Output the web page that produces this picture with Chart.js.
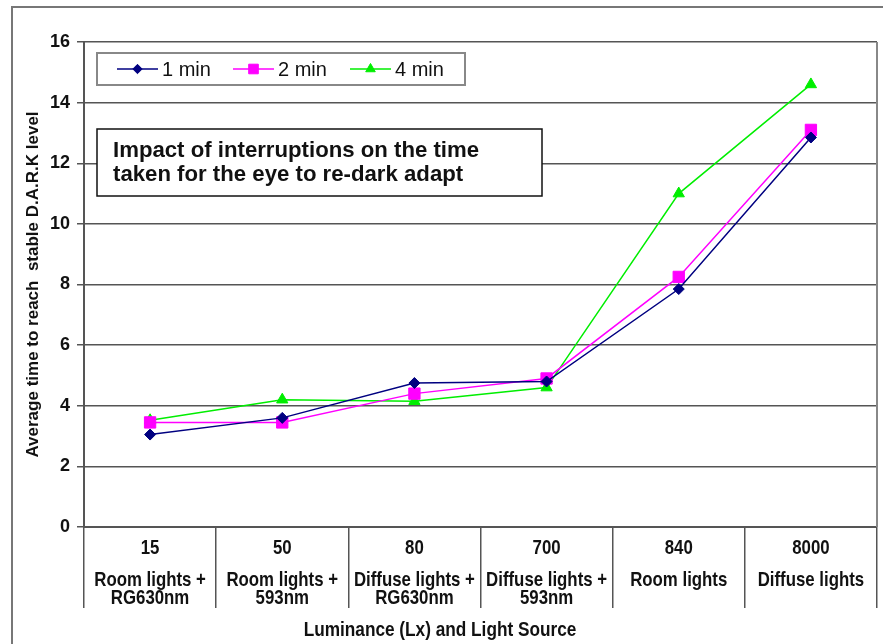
<!DOCTYPE html>
<html>
<head>
<meta charset="utf-8">
<script src="https://cdn.jsdelivr.net/npm/chart.js@4/dist/chart.umd.min.js"></script>
<style>
  html, body { margin: 0; padding: 0; background: #fff; }
  #wrap { width: 883px; height: 644px; position: relative; }
</style>
</head>
<body>
<div id="wrap"><canvas id="c" width="883" height="644"></canvas></div>
<script>
// Luminance (Lx) and light source for each test condition
const luminance = ["15", "50", "80", "700", "840", "8000"];
const lightSource = [
  ["Room lights +", "RG630nm"],
  ["Room lights +", "593nm"],
  ["Diffuse lights +", "RG630nm"],
  ["Diffuse lights +", "593nm"],
  ["Room lights"],
  ["Diffuse lights"]
];

// Average time (min) to reach a stable D.A.R.K level after each interruption length
const seriesNames = ["1 min", "2 min", "4 min"];
const oneMin = [3.05, 3.6, 4.75, 4.8, 7.85, 12.85];
const twoMin = [3.45, 3.45, 4.4, 4.9, 8.25, 13.1];
const fourMin = [3.52, 4.2, 4.15, 4.6, 11.0, 14.6];

// Y axis ticks
const yTicks = [0, 2, 4, 6, 8, 10, 12, 14, 16];

const chartTitle = ["Impact of interruptions on the time", "taken for the eye to re-dark adapt"];
const yTitle = "Average time to reach  stable D.A.R.K level";
const xTitle = "Luminance (Lx) and Light Source";

const SANS = '"Liberation Sans", Arial, sans-serif';
const GRID = '#555555';
const NARROW_X = 0.82; // horizontal squeeze for the condensed axis lettering

const labels = luminance.map((l, i) => [l].concat(lightSource[i]));

// Draw text horizontally condensed around (x, y)
function narrowText(ctx, text, x, y) {
  ctx.save();
  ctx.translate(x, y);
  ctx.scale(NARROW_X, 1);
  ctx.fillText(text, 0, 0);
  ctx.restore();
}

// Outer frame, plot edge, boxed title and the condensed x axis lettering
const framePlugin = {
  id: 'frame',
  beforeDraw(chart) {
    const ctx = chart.ctx;
    ctx.save();
    ctx.fillStyle = '#ffffff';
    ctx.fillRect(0, 0, chart.width, chart.height);
    ctx.strokeStyle = '#777777';
    ctx.lineWidth = 2;
    ctx.beginPath();
    ctx.moveTo(12, chart.height);
    ctx.lineTo(12, 7);
    ctx.lineTo(chart.width, 7);
    ctx.stroke();
    ctx.restore();
  },
  afterDraw(chart) {
    const ctx = chart.ctx;
    const a = chart.chartArea;
    const xs = chart.scales.x;
    ctx.save();
    // right edge of the plot area
    ctx.strokeStyle = '#888888';
    ctx.lineWidth = 2;
    ctx.beginPath();
    ctx.moveTo(a.right, a.top);
    ctx.lineTo(a.right, a.bottom);
    ctx.stroke();

    // boxed chart title
    const bx = 97, by = 129, bw = 445, bh = 67;
    ctx.fillStyle = '#ffffff';
    ctx.fillRect(bx, by, bw, bh);
    ctx.strokeStyle = '#111111';
    ctx.lineWidth = 1.5;
    ctx.strokeRect(bx, by, bw, bh);
    ctx.fillStyle = '#111111';
    ctx.font = 'bold 22.2px ' + SANS;
    ctx.textAlign = 'left';
    ctx.textBaseline = 'alphabetic';
    ctx.fillText(chartTitle[0], 113, 157);
    ctx.fillText(chartTitle[1], 113, 181);

    // category labels: luminance on top, light source below
    ctx.textAlign = 'center';
    ctx.textBaseline = 'middle';
    ctx.font = 'bold 20.5px ' + SANS;
    chart.data.labels.forEach((lab, i) => {
      const x = xs.getPixelForValue(i);
      narrowText(ctx, lab[0], x, a.bottom + 21);
      narrowText(ctx, lab[1], x, a.bottom + 53);
      if (lab[2]) narrowText(ctx, lab[2], x, a.bottom + 71);
    });

    // x axis title
    ctx.font = 'bold 21px ' + SANS;
    narrowText(ctx, xTitle, 440, 630);
    ctx.restore();
  }
};

// Boxed legend showing line + marker for each series
const lineLegendPlugin = {
  id: 'lineLegend',
  afterDraw(chart) {
    const ctx = chart.ctx;
    ctx.save();
    const lx = 97, ly = 53, lw = 368, lh = 32;
    ctx.fillStyle = '#ffffff';
    ctx.fillRect(lx, ly, lw, lh);
    ctx.strokeStyle = '#888888';
    ctx.lineWidth = 2;
    ctx.strokeRect(lx, ly, lw, lh);
    const starts = [117, 233, 350];
    const cy = ly + lh / 2;
    chart.data.datasets.forEach((ds, i) => {
      const x0 = starts[i], x1 = x0 + 41;
      ctx.strokeStyle = ds.borderColor;
      ctx.lineWidth = ds.borderWidth;
      ctx.beginPath();
      ctx.moveTo(x0, cy);
      ctx.lineTo(x1, cy);
      ctx.stroke();
      ctx.fillStyle = ds.pointBackgroundColor;
      ctx.strokeStyle = ds.pointBorderColor;
      ctx.lineWidth = 1;
      Chart.helpers.drawPoint(ctx, {
        pointStyle: ds.pointStyle,
        rotation: 0,
        radius: ds.pointRadius * 0.85,
        borderWidth: 1
      }, (x0 + x1) / 2, cy);
      ctx.fillStyle = '#111111';
      ctx.font = '20px ' + SANS;
      ctx.textAlign = 'left';
      ctx.textBaseline = 'middle';
      ctx.fillText(ds.label, x1 + 4, cy + 1);
    });
    ctx.restore();
  }
};

const ctx = document.getElementById('c').getContext('2d');
const chart = new Chart(ctx, {
  type: 'line',
  data: {
    labels: labels,
    datasets: [
      {
        label: seriesNames[0],
        data: oneMin,
        borderColor: '#000080',
        backgroundColor: '#000080',
        pointBackgroundColor: '#000080',
        pointBorderColor: '#000080',
        borderWidth: 1.5,
        pointStyle: 'rectRot',
        pointRadius: 5.5,
        pointBorderWidth: 1,
        tension: 0
      },
      {
        label: seriesNames[1],
        data: twoMin,
        borderColor: '#ff00ff',
        backgroundColor: '#ff00ff',
        pointBackgroundColor: '#ff00ff',
        pointBorderColor: '#ff00ff',
        borderWidth: 1.5,
        pointStyle: 'rect',
        pointRadius: 8,
        pointBorderWidth: 1,
        tension: 0
      },
      {
        label: seriesNames[2],
        data: fourMin,
        borderColor: '#00ee00',
        backgroundColor: '#00ee00',
        pointBackgroundColor: '#00ee00',
        pointBorderColor: '#00ee00',
        borderWidth: 1.5,
        pointStyle: 'triangle',
        pointRadius: 6.5,
        pointBorderWidth: 1,
        tension: 0
      }
    ]
  },
  options: {
    responsive: false,
    animation: false,
    devicePixelRatio: 1,
    layout: { autoPadding: false, padding: { top: 42, right: 6, left: 0, bottom: 0 } },
    plugins: {
      legend: { display: false },
      title: { display: false },
      tooltip: { enabled: false }
    },
    scales: {
      x: {
        type: 'category',
        offset: true,
        afterFit(s) { s.height = 117; },
        grid: {
          offset: true,
          drawOnChartArea: false,
          drawTicks: true,
          tickLength: 81,
          color: GRID,
          lineWidth: 1.5
        },
        border: { display: true, color: GRID, width: 2 },
        ticks: { display: false, autoSkip: false, maxRotation: 0 }
      },
      y: {
        min: 0,
        max: 16,
        afterFit(s) { s.width = 84; },
        afterBuildTicks(s) { s.ticks = yTicks.map(v => ({ value: v })); },
        grid: {
          color: GRID,
          lineWidth: 1.5,
          drawTicks: true,
          tickLength: 7
        },
        border: { display: true, color: GRID, width: 2 },
        ticks: {
          color: '#111111',
          padding: 7,
          font: { family: SANS, size: 18, weight: 'bold' }
        },
        title: {
          display: true,
          text: yTitle,
          color: '#111111',
          padding: { top: 23, bottom: 0 },
          font: { family: SANS, size: 17, weight: 'bold' }
        }
      }
    }
  },
  plugins: [framePlugin, lineLegendPlugin]
});
</script>
</body>
</html>
